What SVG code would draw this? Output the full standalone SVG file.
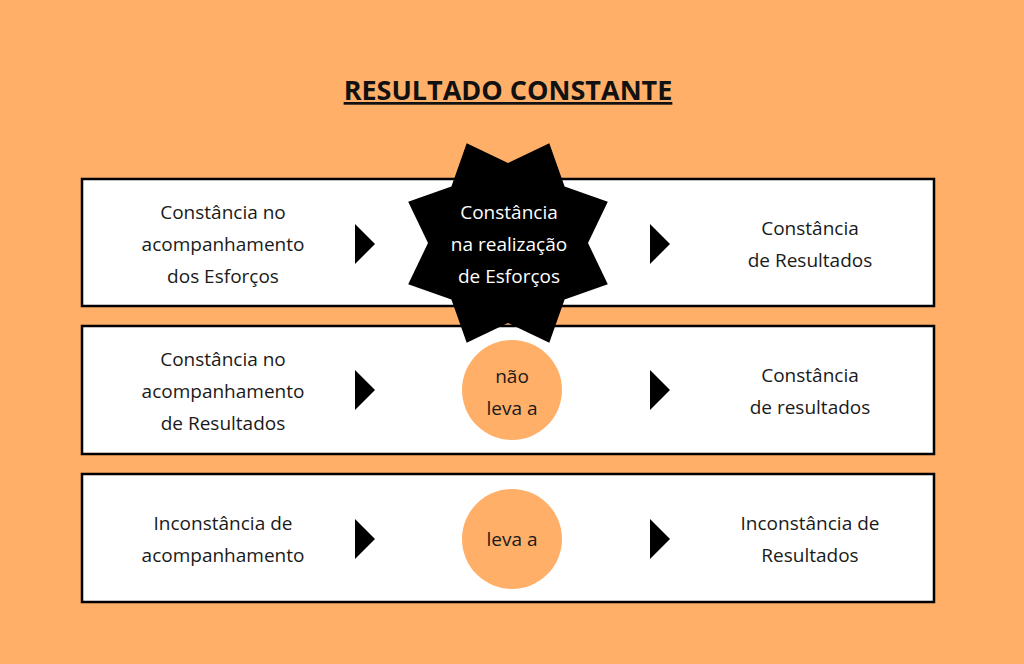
<svg xmlns="http://www.w3.org/2000/svg" width="1024" height="664" viewBox="0 0 1024 664">
<style>
.box{fill:#fff;stroke:#000;stroke-width:2.5}
.t{font-family:"Open Sans","DejaVu Sans",sans-serif;font-size:19px;fill:#1a1a1a;text-anchor:middle}
.w{fill:#fff}
.c{fill:#FFAF68}
</style>
<defs><polygon id="arr" points="0,-20 20,0 0,20"/></defs>
<rect width="1024" height="664" fill="#FFAF68"/>
<text x="508" y="100" style="font-family:'Open Sans',sans-serif;font-weight:bold;font-size:27px;text-anchor:middle;text-decoration:underline" fill="#111">RESULTADO CONSTANTE</text>
<g id="row1"><rect class="box" x="82" y="179" width="852" height="127"/></g>
<g id="row2"><rect class="box" x="82" y="326" width="852" height="128"/></g>
<g id="row3"><rect class="box" x="82" y="474" width="852" height="128"/></g>
<g id="star"><polygon fill="#000" points="508,163 549.3,143.2 564.6,186.4 607.8,201.7 588,243 607.8,284.3 564.6,299.6 549.3,342.8 508,323 466.7,342.8 451.4,299.6 408.2,284.3 428,243 408.2,201.7 451.4,186.4 466.7,143.2"/>
<text class="t w" x="509" y="219">Constância</text><text class="t w" x="509" y="251">na realização</text><text class="t w" x="509" y="283">de Esforços</text></g>
<g id="c2"><circle class="c" cx="512" cy="390" r="50"/><text class="t" x="512" y="383">não</text><text class="t" x="512" y="415">leva a</text></g>
<g id="c3"><circle class="c" cx="512" cy="539" r="50"/><text class="t" x="512" y="546">leva a</text></g>
<g id="connectors">
<use href="#arr" x="355" y="244"/><use href="#arr" x="650" y="244"/>
<use href="#arr" x="355" y="390"/><use href="#arr" x="650" y="390"/>
<use href="#arr" x="355" y="539"/><use href="#arr" x="650" y="539"/>
</g>
<g id="l1"><text class="t" x="223" y="219">Constância no</text><text class="t" x="223" y="251">acompanhamento</text><text class="t" x="223" y="283">dos Esforços</text></g>
<g id="r1"><text class="t" x="810" y="235">Constância</text><text class="t" x="810" y="267">de Resultados</text></g>
<g id="l2"><text class="t" x="223" y="366">Constância no</text><text class="t" x="223" y="398">acompanhamento</text><text class="t" x="223" y="430">de Resultados</text></g>
<g id="r2"><text class="t" x="810" y="382">Constância</text><text class="t" x="810" y="414">de resultados</text></g>
<g id="l3"><text class="t" x="223" y="530">Inconstância de</text><text class="t" x="223" y="562">acompanhamento</text></g>
<g id="r3"><text class="t" x="810" y="530">Inconstância de</text><text class="t" x="810" y="562">Resultados</text></g>
</svg>
